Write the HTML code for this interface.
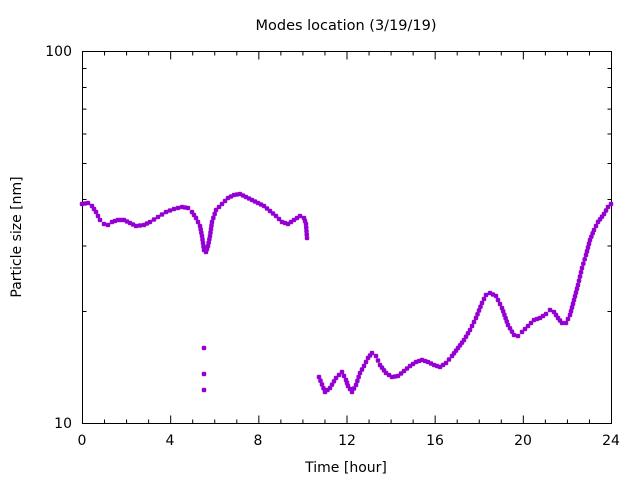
<!DOCTYPE html>
<html><head><style>
body{margin:0;background:#fff;}
svg{display:block;font-family:"DejaVu Sans","Liberation Sans",sans-serif;}
</style></head><body>
<svg id="s" width="640" height="480" xmlns="http://www.w3.org/2000/svg">
<rect width="640" height="480" fill="#fff"/>
<text x="346" y="30" font-size="14.5" text-anchor="middle" fill="#000">Modes location (3/19/19)</text>
<rect x="82.5" y="51.5" width="529" height="372" fill="none" stroke="#000" stroke-width="1"/>
<g id="ticks" stroke="#000" stroke-width="1"></g>
<g font-size="14" fill="#000" text-anchor="middle">
<text x="82" y="445">0</text><text x="170" y="445">4</text><text x="258" y="445">8</text>
<text x="347" y="445">12</text><text x="435" y="445">16</text><text x="523" y="445">20</text><text x="611" y="445">24</text>
<text x="346" y="472">Time [hour]</text>
</g>
<g font-size="14" fill="#000" text-anchor="end">
<text x="72" y="428">10</text><text x="72" y="56">100</text>
</g>
<text transform="translate(21,237) rotate(-90)" font-size="14" text-anchor="middle">Particle size [nm]</text>
<g id="pts" stroke="#9400d3" stroke-width="1.5"></g>
</svg>
<script>
var tk=document.getElementById('ticks'),d='';
for(var h=0;h<=24;h++){var x=82.5+h*529/24,L=(h%4==0)?8:4;d+='M'+x+' 423.5v-'+L+'M'+x+' 51.5v'+L;}
for(var v=10;v<=100;v+=10){var y=423.5-372*Math.log10(v/10),L=(v==10||v==100)?8:4;d+='M82.5 '+y+'h'+L+'M611.5 '+y+'h-'+L;}
tk.innerHTML='<path d="'+d+'"/>';
var s1=[[82,204],[88,203],[92,206],[96,212],[100,220],[104,224],[108,225],[112,222],[118,220],[124,220],[130,223],[136,226],[144,225],[150,222],[158,217],[166,212],[174,209],[182,207],[188,208],[192,212],[196,218],[200,226],[202,236],[204,250],[206,252],[208,246],[210,236],[212,222],[216,210],[222,204],[228,198],[234,195],[240,194],[246,197],[252,200],[258,203],[264,206],[270,211],[276,216],[282,222],[288,224],[294,220],[300,216],[304,218],[306,224],[307,238]];
var s2=[[319,377],[325,392],[330,388],[336,378],[342,372],[346,380],[348,386],[352,392],[356,385],[360,373],[364,366],[368,358],[372,353],[376,356],[380,365],[386,373],[392,377],[398,376],[404,371],[410,366],[416,362],[422,360],[428,362],[434,365],[440,367],[446,363],[452,356],[458,348],[464,340],[470,330],[476,318],[482,303],[486,295],[490,293],[496,296],[502,308],[508,325],[514,335],[518,336],[522,332],[528,326],[534,320],[540,318],[546,314],[550,310],[554,312],[558,318],[562,323],[566,323],[570,315],[574,300],[578,285],[582,268],[586,255],[590,240],[594,230],[598,222],[604,214],[608,207],[611,204]];
var out='';
function mk(x,y){out+='M'+(x-2.3)+' '+y+'h4.6M'+x+' '+(y-2.3)+'v4.6M'+(x-1.8)+' '+(y-1.8)+'l3.6 3.6M'+(x-1.8)+' '+(y+1.8)+'l3.6 -3.6';}
function run(s){for(var i=0;i<s.length-1;i++){var a=s[i],b=s[i+1];var n=Math.max(1,Math.round(Math.hypot(b[0]-a[0],b[1]-a[1])/4));for(var k=0;k<n;k++){var t=k/n;mk(a[0]+(b[0]-a[0])*t,a[1]+(b[1]-a[1])*t);}}mk(s[s.length-1][0],s[s.length-1][1]);}
run(s1);run(s2);
mk(204,348);mk(204,374);mk(204,390);
document.getElementById('pts').innerHTML='<path d="'+out+'"/>';
</script>
</body></html>
